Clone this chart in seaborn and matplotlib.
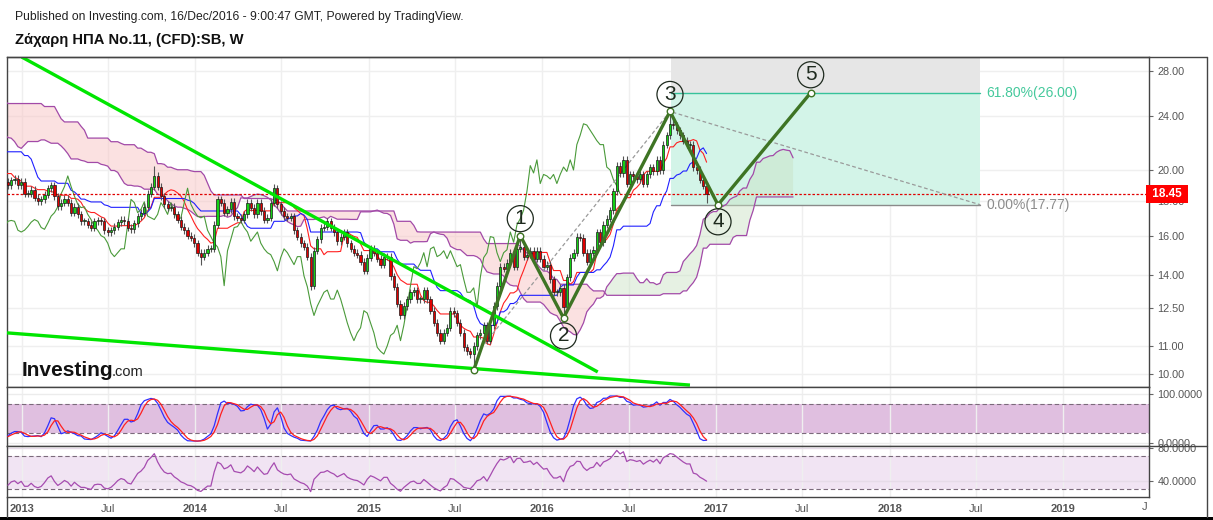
import numpy as np
import pandas as pd
import matplotlib
matplotlib.use("Agg")
import matplotlib.pyplot as plt
import matplotlib.dates as mdates
import matplotlib.transforms as mtransforms
from matplotlib.patches import Rectangle
from matplotlib.lines import Line2D
from matplotlib.ticker import FixedLocator, NullLocator
import seaborn as sns

W, H = 1213, 520

# ---------------- data ----------------
# weekly closes before the visible window (used only to warm up the indicators)
pre_closes = [22.0, 22.5, 23.0,
              24.0, 25.5, 26.5, 26.0,
              27.5, 29.0, 30.5, 30.5,
              29.5, 29.0, 29.5, 30.0, 29.0,
              28.0, 27.5, 26.5, 25.5,
              26.5, 27.5, 27.0, 26.5,
              25.0, 24.5, 24.0, 23.5,
              23.0, 23.5, 23.3, 23.3,
              24.0, 23.5, 24.0, 24.3,
              24.5, 25.0, 25.5, 25.0,
              25.0, 25.0, 24.5, 24.7, 24.5,
              23.5, 22.0, 21.5, 21.0,
              21.0, 20.5, 20.0, 19.5,
              20.0, 20.5, 21.0, 21.5,
              22.5, 23.5, 23.0, 22.0,
              21.0, 20.5, 20.0, 19.5, 19.5,
              19.5, 20.0, 20.0, 20.3,
              20.5, 20.0, 19.8, 19.5,
              19.3, 19.2, 19.0, 19.2]

# visible weekly closes, first bar week of 2012-12-03, last bar week of 2016-12-12
closes = [19.0, 19.3, 19.4, 19.0, 19.2, 18.45, 18.45, 18.7, 18.2, 18.0,
          18.1, 18.4, 18.8, 19.0, 18.3, 17.7, 17.9, 18.15, 17.9, 17.3,
          17.65, 17.2, 16.8, 16.8, 16.6, 16.45, 16.8, 16.85, 16.8, 16.3,
          16.2, 16.3, 16.5, 16.75, 16.9, 16.8, 16.45, 16.35, 16.7, 17.1,
          17.3, 17.65, 18.45, 18.9, 19.6, 18.9, 18.3, 17.8, 17.6, 17.65,
          17.2, 16.9, 16.5, 16.3, 16.0, 15.9, 15.6, 15.1, 14.9, 15.1,
          15.3, 15.3, 16.6, 18.1, 17.9, 17.3, 17.5, 17.95, 17.1, 17.0,
          16.9, 17.2, 17.9, 17.6, 17.2, 17.9, 17.4, 16.9, 17.0, 17.9,
          18.8, 17.8, 17.4, 17.1, 17.0, 17.1, 16.3, 15.95, 15.6, 15.4,
          14.9, 13.5, 15.2, 15.8, 16.45, 16.5, 16.8, 16.45, 16.2, 15.7,
          15.95, 16.2, 15.6, 15.3, 15.1, 15.0, 14.65, 14.2, 14.85, 15.3,
          15.1, 14.8, 14.5, 14.9, 14.9, 13.95, 13.45, 12.7, 12.2, 12.6,
          12.9, 13.2, 13.3, 12.9, 12.9, 13.3, 12.9, 12.4, 11.9, 11.5,
          11.2, 11.5, 11.7, 12.4, 12.3, 11.9, 11.5, 10.95, 10.8, 10.7,
          11.0, 11.4, 11.5, 11.8, 11.2, 11.8, 12.6, 13.5, 14.4, 14.3,
          14.6, 15.1, 14.4, 15.3, 15.4, 14.9, 15.0, 15.2, 14.8, 15.2,
          14.8, 14.4, 14.5, 13.8, 13.2, 13.2, 13.4, 12.55, 13.9, 14.85,
          15.1, 15.95, 15.9, 15.1, 14.65, 15.1, 15.25, 16.2, 15.65, 16.6,
          16.95, 17.45, 18.6, 20.3, 19.8, 20.7, 19.1, 19.7, 19.6, 19.4,
          19.7, 19.1, 19.7, 20.2, 19.9, 20.7, 20.0, 21.8, 22.5, 23.4,
          23.3, 22.9, 22.5, 22.1, 21.8, 21.8, 20.2, 20.0, 19.35, 18.95,
          18.45]
first_bar = "2012-12-03"
wick_high_override = {44: 20.3, 80: 19.1, 154: 16.0, 199: 24.4}
wick_low_override = {58: 14.5, 91: 13.3, 140: 10.13, 167: 12.1, 210: 17.9}

wave_dates = ["2015-08-10", "2015-11-16", "2016-02-15", "2016-09-26", "2017-01-05", "2017-07-19"]
wave_prices = [10.13, 16.0, 12.1, 24.4, 17.77, 26.0]
wave_labels = ["", "1", "2", "3", "4", "5"]
wave_label_offsets = [0, 17, -18, 17, -17, 18]

upper_trend_dates = ["2013-01-01", "2016-04-27"]
upper_trend_prices = [29.36, 10.07]
lower_trend_dates = ["2012-12-01", "2016-11-07"]
lower_trend_prices = [11.5, 9.63]

fib_dates = ["2016-09-29", "2018-07-11"]
fib_levels = [26.00, 17.77]
fib_labels = ["61.80%(26.00)", "0.00%(17.77)"]
fib_tie_dates = ["2015-09-02", "2016-09-26", "2018-07-11"]
fib_tie_prices = [11.08, 24.4, 17.77]

last_price = 18.45
price_ticks = [10, 11, 12.5, 14, 16, 18, 20, 24, 28]
stoch_ticks = [0, 100]
rsi_ticks = [40, 80]
x_tick_dates = ["2013-01-01", "2013-07-01", "2014-01-01", "2014-07-01", "2015-01-01",
                "2015-07-01", "2016-01-01", "2016-07-01", "2017-01-01", "2017-07-01",
                "2018-01-01", "2018-07-01", "2019-01-01"]
x_tick_labels = ["2013", "Jul", "2014", "Jul", "2015", "Jul", "2016", "Jul", "2017",
                 "Jul", "2018", "Jul", "2019"]

title_text = "Ζάχαρη ΗΠΑ No.11, (CFD):SB, W"
pub_text = "Published on Investing.com, 16/Dec/2016 - 9:00:47 GMT, Powered by TradingView."

# ---------------- derived series ----------------
n_pre = len(pre_closes)
c = np.array(pre_closes + closes, dtype=float)
o = np.r_[c[0], c[:-1]]
hi = np.maximum(o, c) * 1.012
lo = np.minimum(o, c) * 0.988
for k, v in wick_high_override.items():
    hi[n_pre + k] = v
for k, v in wick_low_override.items():
    lo[n_pre + k] = v

start = pd.Timestamp(first_bar) - pd.Timedelta(weeks=n_pre)
dates = pd.date_range(start=start, periods=len(c) + 26, freq="7D")
dn_all = mdates.date2num(dates.to_pydatetime())
dn = dn_all[:len(c)]

hs, ls_ = pd.Series(hi), pd.Series(lo)
tenkan = (hs.rolling(9).max() + ls_.rolling(9).min()) / 2
kijun = (hs.rolling(26).max() + ls_.rolling(26).min()) / 2
spanA = ((tenkan + kijun) / 2).values
spanB = ((hs.rolling(52).max() + ls_.rolling(52).min()) / 2).values
A = np.full(len(dn_all), np.nan); A[26:26 + len(c)] = spanA
B = np.full(len(dn_all), np.nan); B[26:26 + len(c)] = spanB

cs = pd.Series(c)
ll14 = ls_.rolling(14).min(); hh14 = hs.rolling(14).max()
raw = 100 * (cs - ll14) / (hh14 - ll14)
stK = raw.rolling(3).mean(); stD = stK.rolling(3).mean()
delta = cs.diff()
gain = delta.clip(lower=0).ewm(alpha=1 / 14, adjust=False).mean()
loss = (-delta).clip(lower=0).ewm(alpha=1 / 14, adjust=False).mean()
rsi = 100 - 100 / (1 + gain / loss)

# ---------------- figure ----------------
sns.set_theme(style="white")
plt.rcParams["font.family"] = ["Liberation Sans", "DejaVu Sans"]

fig = plt.figure(figsize=(W / 100, H / 100), dpi=100)
fig.patch.set_facecolor("white")
L, Wd = 7 / W, 1142 / W
ax = fig.add_axes([L, 1 - 387 / H, Wd, 330 / H])
axs = fig.add_axes([L, 1 - 446 / H, Wd, 59 / H], sharex=ax)
axr = fig.add_axes([L, 1 - 497 / H, Wd, 51 / H], sharex=ax)

base = mdates.date2num(pd.Timestamp("2013-01-01").to_pydatetime())
xt = [mdates.date2num(pd.Timestamp(d).to_pydatetime()) for d in x_tick_dates]


def d2n(lst):
    return [mdates.date2num(pd.Timestamp(d).to_pydatetime()) for d in lst]


for a in (ax, axs, axr):
    a.set_facecolor("white")
    for s in a.spines.values():
        s.set_color("#444444")
        s.set_linewidth(1.0)
    a.set_xticks(xt)
    a.xaxis.grid(True, color="#efefef", lw=1)
    a.yaxis.tick_right()
    a.tick_params(axis="y", which="major", length=3, width=0.8, color="#666666",
                  labelsize=7.8, labelcolor="#555555", pad=3, direction="out")
    a.tick_params(axis="x", length=0, labelbottom=False)
    a.set_axisbelow(True)

ax.set_xlim(base - 30.9, base + 2371.8)

# ---- main panel ----
ax.set_yscale("log")
ax.set_ylim(9.568, 29.36)
ax.yaxis.set_major_locator(FixedLocator(price_ticks))
ax.yaxis.set_minor_locator(NullLocator())
ax.set_yticklabels([f"{t:.2f}" for t in price_ticks])
ax.yaxis.grid(True, color="#efefef", lw=1)

# fib extension boxes
fd = d2n(fib_dates)
ax.fill_between(fd, fib_levels[1], fib_levels[0], color="#d3f4e8", lw=0, zorder=1)
ax.fill_between(fd, fib_levels[0], 60, color="#e6e6e6", lw=0, zorder=1)
ax.plot(fd, [fib_levels[0]] * 2, color="#36c29a", lw=1.0, zorder=2)
ax.plot(fd, [fib_levels[1]] * 2, color="#8a8a8a", lw=1.0, zorder=2)
ax.annotate(fib_labels[0], (fd[1], fib_levels[0]), xytext=(6, 0), textcoords="offset pixels",
            va="center", ha="left", color="#45c99c", fontsize=10, zorder=10)
ax.annotate(fib_labels[1], (fd[1], fib_levels[1]), xytext=(6, 0), textcoords="offset pixels",
            va="center", ha="left", color="#8c8c8c", fontsize=10, zorder=10)
ax.plot(d2n(fib_tie_dates), fib_tie_prices, color="#9a9a9a", lw=0.9, ls=(0, (3, 2)), zorder=6)

# ichimoku cloud
mA = ~np.isnan(A) & ~np.isnan(B)
ax.fill_between(dn_all[mA], A[mA], B[mA], where=A[mA] >= B[mA], interpolate=True,
                color="#c9e2c3", alpha=0.45, lw=0, zorder=2)
ax.fill_between(dn_all[mA], A[mA], B[mA], where=A[mA] < B[mA], interpolate=True,
                color="#f8c4c4", alpha=0.5, lw=0, zorder=2)
sns.lineplot(x=dn_all[mA], y=A[mA], ax=ax, color="#a24aa8", lw=0.9, zorder=3)
sns.lineplot(x=dn_all[mA], y=B[mA], ax=ax, color="#a24aa8", lw=0.9, zorder=3)
mt = ~tenkan.isna().values
sns.lineplot(x=dn[mt], y=tenkan.values[mt], ax=ax, color="#ff2020", lw=0.8, zorder=3)
mk = ~kijun.isna().values
sns.lineplot(x=dn[mk], y=kijun.values[mk], ax=ax, color="#2020ff", lw=0.8, zorder=3)
sns.lineplot(x=dn[:-26], y=c[26:], ax=ax, color="#4a9a3a", lw=0.8, zorder=3)

# last price dotted line + label
ax.axhline(last_price, color="#e00000", lw=0.9, ls=(0, (2, 1.5)), zorder=3)
blend = mtransforms.blended_transform_factory(ax.transAxes, ax.transData)
ax.text(1.0, last_price, f" {last_price:.2f} ", transform=blend, ha="left", va="center",
        color="white", fontsize=8.5, fontweight="bold", clip_on=False, zorder=20,
        bbox=dict(boxstyle="square,pad=0.25", fc="#ff0000", ec="none"))

# candles
vis = slice(n_pre, len(c))
dv, ov, cv, hv, lv = dn[vis], o[vis], c[vis], hi[vis], lo[vis]
up = cv >= ov
ax.vlines(dv, lv, hv, color="#555555", lw=0.8, zorder=5)
body_h = np.maximum(np.abs(cv - ov), cv * 0.003)
ax.bar(dv, body_h, bottom=np.minimum(ov, cv), width=4.6,
       color=np.where(up, "#14d014", "#e00000"), edgecolor="#1a1a1a", linewidth=0.5, zorder=6)

# trend lines
ax.plot(d2n(upper_trend_dates), upper_trend_prices, color="#00e600", lw=2.4,
        solid_capstyle="butt", zorder=7)
ax.plot(d2n(lower_trend_dates), lower_trend_prices, color="#00e600", lw=2.4,
        solid_capstyle="butt", zorder=7)

# elliott waves
wd = d2n(wave_dates)
ax.plot(wd, wave_prices, color="#3e7424", lw=2.4, zorder=8, solid_joinstyle="miter")
ax.scatter(wd, wave_prices, s=22, facecolor="white", edgecolor="#3e7424", lw=1, zorder=9)
for x_, y_, lab, off in zip(wd, wave_prices, wave_labels, wave_label_offsets):
    if lab:
        ax.annotate(lab, (x_, y_), xytext=(0, off), textcoords="offset pixels",
                    ha="center", va="center", fontsize=15, color="#1e2a1e", zorder=10,
                    bbox=dict(boxstyle="circle,pad=0.17", fc="none", ec="#1e2a1e", lw=0.9))

# ---- stochastic panel ----
axs.set_ylim(-6.1, 114.3)
axs.axhspan(20, 80, color="#e0bfe0", lw=0, zorder=0.5)
for lvl in (20, 80):
    axs.axhline(lvl, color="#7b6a7b", lw=0.8, ls=(0, (4, 2.5)), zorder=1)
axs.yaxis.set_major_locator(FixedLocator(stoch_ticks))
axs.set_yticklabels(["0.0000", "100.0000"])
axs.yaxis.grid(True, color="#ececec", lw=1)
sns.lineplot(x=dn[vis], y=stK.values[vis], ax=axs, color="#3030ff", lw=0.9, zorder=3)
sns.lineplot(x=dn[vis], y=stD.values[vis], ax=axs, color="#ff2020", lw=0.9, zorder=3)

# ---- RSI panel ----
axr.set_ylim(20.6, 82.4)
axr.axhspan(30, 70, color="#f1e4f3", lw=0, zorder=0.5)
for lvl in (30, 70):
    axr.axhline(lvl, color="#7b6a7b", lw=0.8, ls=(0, (4, 2.5)), zorder=1)
axr.yaxis.set_major_locator(FixedLocator(rsi_ticks))
axr.set_yticklabels(["40.0000", "80.0000"])
axr.yaxis.grid(True, color="#e6dbe8", lw=1)
sns.lineplot(x=dn[vis], y=rsi.values[vis], ax=axr, color="#a64cb0", lw=0.9, zorder=3)

for a in (ax, axs, axr):
    a.set_xlabel("")
    a.set_ylabel("")

axr.tick_params(axis="x", length=3, width=0.8, color="#888888", labelbottom=True,
                labelsize=8, labelcolor="#555555", pad=2)
axr.set_xticklabels(x_tick_labels)
for t, lab in zip(axr.get_xticklabels(), x_tick_labels):
    if lab != "Jul":
        t.set_fontweight("bold")
ax.set_xlim(base - 30.9, base + 2371.8)


# ---------------- figure decorations ----------------
def fx(x):
    return x / W


def fy(y):
    return 1 - y / H


fig.text(fx(15), fy(17), pub_text, fontsize=8.75, color="#222222", va="center", ha="left")
fig.text(fx(15), fy(40), title_text, fontsize=10.6, fontweight="bold", color="#111111",
         va="center", ha="left")
fig.text(fx(22), fy(370), "Investing", fontsize=15, fontweight="bold", color="#111111",
         va="center", ha="left")
fig.text(fx(112), fy(372), ".com", fontsize=10.5, color="#222222", va="center", ha="left")
fig.text(fx(1145), fy(507), "J", fontsize=8, color="#555555", va="center", ha="center")

for (x0, y0, x1, y1) in [(7, 57, 1207, 57), (1207, 57, 1207, 517), (7, 497, 7, 517),
                         (1149, 446, 1207, 446)]:
    fig.add_artist(Line2D([fx(x0), fx(x1)], [fy(y0), fy(y1)], color="#444444", lw=1.0,
                          transform=fig.transFigure))
fig.add_artist(Rectangle((0, 0), 1, 3 / H, transform=fig.transFigure, color="black", lw=0))

fig.savefig("out.png", dpi=100)
